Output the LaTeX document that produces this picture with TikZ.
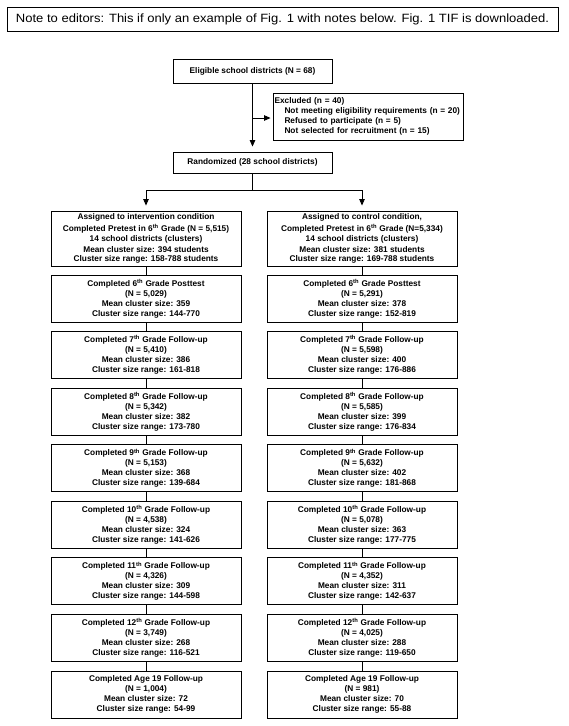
\documentclass[tikz,border=0pt]{standalone}
\usepackage{fontspec}
\usepackage{graphicx}
\setmainfont{Liberation Sans}
\usetikzlibrary{arrows.meta}
\newcommand\sth{\textsuperscript{th}}
\begin{document}
\begin{tikzpicture}[x=1pt,y=-1pt,
  box/.style={draw, line width=0.9pt, rectangle, inner sep=0pt, align=center,
    font=\bfseries\fontsize{8.3}{10}\selectfont},
  topbox/.style={box, minimum width=159pt, minimum height=24pt},
  abox/.style={box, minimum width=190pt, minimum height=55pt},
  fbox/.style={box, minimum width=190pt, minimum height=47pt},
  link/.style={line width=0.9pt},
  arr/.style={link, -{Triangle[length=6.5pt,width=5.5pt]}}]
\useasboundingbox (0,0) rectangle (568,726);
\fill[white] (0,0) rectangle (568,726);

\node[draw, line width=0.9pt, minimum width=551pt, minimum height=24pt, inner sep=0pt,
  font=\fontsize{12}{14}\selectfont] (note) at (282.5,19)
  {\scalebox{1.085}[1]{Note to editors: This if only an example of Fig. 1 with notes below. Fig. 1 TIF is downloaded.}};

\node[topbox] (elig) at (252.5,71) {Eligible school districts (N = 68)};
\node[box, minimum width=190pt, minimum height=47pt, text width=187pt, align=left,
  inner xsep=1.5pt] (excl) at (368,116.5)
  {Excluded (n = 40)\\
   \hspace*{10pt}Not meeting eligibility requirements (n = 20)\\
   \hspace*{10pt}Refused to participate (n = 5)\\
   \hspace*{10pt}Not selected for recruitment (n = 15)};
\node[topbox, minimum height=21pt] (rand) at (252.5,162.5) {Randomized (28 school districts)};

\node[abox] (L0) at (146,238.5)
  {Assigned to intervention condition\\[1.5pt]
   Completed Pretest in 6\sth{} Grade (N = 5,515)\\
   14 school districts (clusters)\\[1.5pt]
   Mean cluster size: 394 students\\[-1pt]
   Cluster size range: 158-788 students};
\node[abox] (R0) at (362,238.5)
  {Assigned to control condition,\\[1.5pt]
   Completed Pretest in 6\sth{} Grade (N=5,334)\\
   14 school districts (clusters)\\[1.5pt]
   Mean cluster size: 381 students\\[-1pt]
   Cluster size range: 169-788 students};

\newcommand\fu[7]{%
  \node[fbox] (#1) at (#2,{275+56.57*#3+23.5})
   {Completed #4 #5\\(N = #6)\\#7};}
\newcommand\mr[2]{Mean cluster size: #1\\Cluster size range: #2}

\fu{L1}{146}{0}{6\sth{} Grade}{Posttest}{5,029}{\mr{359}{144-770}}
\fu{L2}{146}{1}{7\sth{} Grade}{Follow-up}{5,410}{\mr{386}{161-818}}
\fu{L3}{146}{2}{8\sth{} Grade}{Follow-up}{5,342}{\mr{382}{173-780}}
\fu{L4}{146}{3}{9\sth{} Grade}{Follow-up}{5,153}{\mr{368}{139-684}}
\fu{L5}{146}{4}{10\sth{} Grade}{Follow-up}{4,538}{\mr{324}{141-626}}
\fu{L6}{146}{5}{11\sth{} Grade}{Follow-up}{4,326}{\mr{309}{144-598}}
\fu{L7}{146}{6}{12\sth{} Grade}{Follow-up}{3,749}{\mr{268}{116-521}}
\fu{L8}{146}{7}{Age 19}{Follow-up}{1,004}{\mr{72}{54-99}}

\fu{R1}{362}{0}{6\sth{} Grade}{Posttest}{5,291}{\mr{378}{152-819}}
\fu{R2}{362}{1}{7\sth{} Grade}{Follow-up}{5,598}{\mr{400}{176-886}}
\fu{R3}{362}{2}{8\sth{} Grade}{Follow-up}{5,585}{\mr{399}{176-834}}
\fu{R4}{362}{3}{9\sth{} Grade}{Follow-up}{5,632}{\mr{402}{181-868}}
\fu{R5}{362}{4}{10\sth{} Grade}{Follow-up}{5,078}{\mr{363}{177-775}}
\fu{R6}{362}{5}{11\sth{} Grade}{Follow-up}{4,352}{\mr{311}{142-637}}
\fu{R7}{362}{6}{12\sth{} Grade}{Follow-up}{4,025}{\mr{288}{119-650}}
\fu{R8}{362}{7}{Age 19}{Follow-up}{981}{\mr{70}{55-88}}

% connectors
\draw[arr, shorten >=5pt] (elig) -- (rand);
\coordinate (branch) at (252.5,118);
\draw[arr, shorten >=2pt] (branch) -- (branch -| excl.west);
\coordinate (split) at (252.5,190);
\draw[link] (rand) -- (split);
\draw[link] (split -| L0) -- (split -| R0);
\draw[arr, shorten >=5pt] (split -| L0) -- (L0);
\draw[arr, shorten >=5pt] (split -| R0) -- (R0);
\foreach \a/\b in {0/1,1/2,2/3,3/4,4/5,5/6,6/7,7/8}{
  \draw[link] (L\a) -- (L\b);
  \draw[link] (R\a) -- (R\b);
}
\end{tikzpicture}
\end{document}
